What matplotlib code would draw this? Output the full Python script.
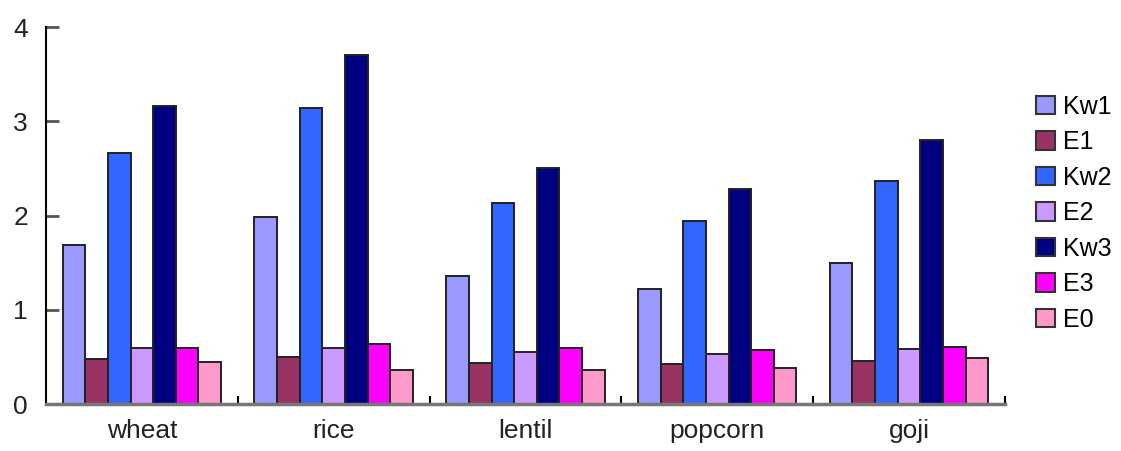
import numpy as np
import matplotlib.pyplot as plt
from matplotlib.patches import Patch

plt.rcParams['font.family'] = ['Liberation Sans', 'DejaVu Sans']

# grain types and measured values for each series
categories = ['wheat', 'rice', 'lentil', 'popcorn', 'goji']
series_names = ['Kw1', 'E1', 'Kw2', 'E2', 'Kw3', 'E3', 'E0']
Kw1 = [1.69, 1.99, 1.36, 1.22, 1.50]
E1 = [0.48, 0.50, 0.44, 0.43, 0.46]
Kw2 = [2.66, 3.14, 2.13, 1.94, 2.37]
E2 = [0.59, 0.59, 0.55, 0.53, 0.58]
Kw3 = [3.16, 3.70, 2.51, 2.28, 2.80]
E3 = [0.60, 0.64, 0.59, 0.57, 0.61]
E0 = [0.45, 0.36, 0.36, 0.38, 0.49]
y_ticks = [0, 1, 2, 3, 4]

values = [Kw1, E1, Kw2, E2, Kw3, E3, E0]
colors = ['#9999FF', '#993366', '#3366FF', '#CC99FF', '#000080', '#FF00FF', '#FF99CC']

fig = plt.figure(figsize=(11.21, 4.51), dpi=100)
ax = fig.add_axes([0.041, 0.104, 0.8555, 0.836])

x = np.arange(len(categories))
width = 0.118
for i, (name, vals) in enumerate(zip(series_names, values)):
    offset = (i - 3) * width
    ax.bar(x + offset, vals, width, color=colors[i], edgecolor='#222222',
           linewidth=1.4, label=name, zorder=2)

ax.set_xlim(-0.5, len(categories) - 0.5)
ax.set_ylim(0, 4)
ax.set_yticks(y_ticks)
ax.set_yticklabels([str(t) for t in y_ticks], fontsize=19, color='#222222')
ax.tick_params(axis='y', direction='in', length=9, width=2, color='#555555', pad=13)

# category labels centred, tick marks at the group boundaries
ax.set_xticks(x)
ax.set_xticklabels(categories, fontsize=19, color='#222222')
ax.tick_params(axis='x', length=0, pad=11)
ax.set_xticks(np.arange(0.5, len(categories), 1.0), minor=True)
ax.tick_params(axis='x', which='minor', direction='in', length=6, width=1.5, color='black')

for side in ['top', 'right']:
    ax.spines[side].set_visible(False)
ax.spines['left'].set_linewidth(1.5)
ax.spines['left'].set_color('black')
ax.spines['bottom'].set_linewidth(2.5)
ax.spines['bottom'].set_color('#777777')

handles = [Patch(facecolor=c, edgecolor='#333333', linewidth=1.5, label=n)
           for c, n in zip(colors, series_names)]
fig.legend(handles=handles, loc='center left', bbox_to_anchor=(0.913, 0.527),
           frameon=False, fontsize=18, handlelength=0.75, handleheight=0.75,
           handletextpad=0.35, labelspacing=0.46, borderpad=0)

fig.savefig('out.png', dpi=100)
